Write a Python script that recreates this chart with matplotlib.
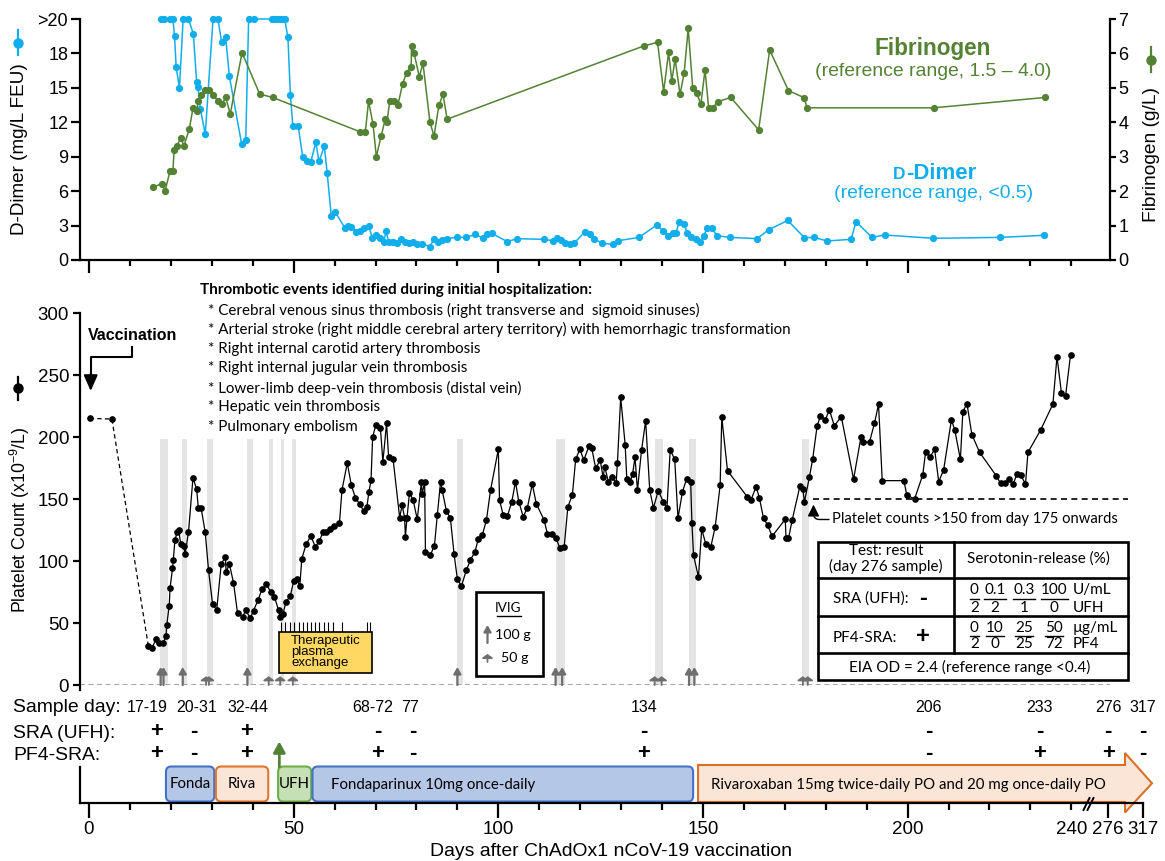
import numpy as np
import matplotlib
matplotlib.use("Agg")
import matplotlib.pyplot as plt
from matplotlib.patches import Rectangle, FancyBboxPatch, Polygon, FancyArrowPatch
from matplotlib.lines import Line2D

plt.rcParams['font.family'] = ['Liberation Sans', 'DejaVu Sans']
plt.rcParams['mathtext.fontset'] = 'custom'
plt.rcParams['mathtext.rm'] = 'Liberation Sans'
plt.rcParams['mathtext.it'] = 'Liberation Sans:italic'
plt.rcParams['mathtext.bf'] = 'Liberation Sans:bold'
SANS = ['Liberation Sans', 'DejaVu Sans']
HUM = ['Lato', 'DejaVu Sans']

# ------------------------------------------------------------------ data
# D-dimer (mg/L FEU); value 21 is plotted at the ">20" tick
dd_day = [17.6, 18.4, 19.8, 20.5, 20.9, 21.3, 22.1, 23.0, 24.3, 25.5,
          26.3, 26.6, 27.2, 28.4, 30.3, 31.5, 32.4, 33.4, 34.3, 37.3,
          38.3, 39.0, 40.2, 44.7, 45.3, 45.9, 46.6, 47.2, 47.8, 48.6,
          49.2, 49.8, 51.1, 52.2, 53.3, 54.2, 55.4, 56.2, 57.5, 58.2,
          59.2, 60.2, 62.6, 63.2, 64.1, 65.3, 66.3, 67.3, 68.3, 69.2,
          70.2, 71.2, 72.0, 72.6, 73.2, 74.3, 75.3, 76.3, 77.3, 78.3,
          79.1, 80.2, 81.4, 83.3, 84.3, 85.2, 86.3, 87.4, 89.8, 92.2,
          94.4, 96.2, 97.3, 98.4, 102.2, 104.5, 111.2, 113.4, 114.4, 115.3,
          116.3, 117.5, 118.5, 121.1, 122.3, 123.5, 125.3, 128.1, 129.3, 134.4,
          138.7, 140.3, 141.5, 142.6, 143.4, 144.2, 145.3, 146.2, 147.2, 148.3,
          149.3, 150.2, 151.1, 152.2, 153.4, 156.6, 163.2, 166.1, 170.7, 174.8,
          177.2, 180.3, 186.2, 187.4, 191.3, 194.4, 206.2, 222.5, 233.3]
dd_val = [21, 21, 21, 21, 19.5, 16.8, 15.0, 21, 21, 19.7,
          15.5, 15.1, 13.2, 10.95, 21, 21, 19.0, 19.4, 16.0, 10.1,
          10.5, 21, 21, 21, 21, 21, 21, 21, 21, 19.4,
          14.4, 11.7, 11.7, 9.0, 8.6, 8.55, 10.25, 8.6, 9.9, 7.55,
          3.83, 4.15, 2.76, 2.96, 2.9, 2.41, 2.5, 2.78, 3.0, 1.94,
          2.15, 1.9, 1.56, 2.5, 1.56, 1.56, 1.48, 1.86, 1.54, 1.5,
          1.54, 1.4, 1.42, 1.16, 1.86, 1.54, 1.74, 1.86, 1.97, 1.97,
          2.24, 1.92, 2.24, 2.32, 1.6, 1.86, 1.8, 1.68, 1.92, 1.71,
          1.45, 1.42, 1.45, 2.44, 2.29, 1.86, 1.45, 1.37, 1.68, 1.97,
          3.05, 2.53, 2.12, 2.38, 2.38, 3.28, 3.14, 2.38, 1.97, 1.86,
          1.6, 2.12, 2.79, 2.79, 2.12, 1.97, 1.86, 2.64, 3.45, 1.94,
          1.97, 1.66, 1.8, 3.34, 1.97, 2.18, 1.89, 1.97, 2.15]
dd_ticks = [0, 3, 6, 9, 12, 15, 18, 21]
dd_ticklabels = ['0', '3', '6', '9', '12', '15', '18', '>20']

# Fibrinogen (g/L)
fib_day = [15.6, 17.8, 18.6, 19.8, 20.5, 20.8, 21.5, 22.4, 23.2, 24.5,
           25.4, 26.3, 26.7, 27.4, 28.4, 29.3, 30.4, 31.4, 32.5, 33.4,
           34.5, 37.4, 41.7, 44.9, 66.1, 67.5, 68.3, 69.4, 70.2, 71.4,
           72.4, 72.8, 73.5, 74.5, 75.5, 76.6, 77.6, 78.7, 78.8, 79.4,
           80.7, 81.6, 83.3, 84.3, 85.5, 86.5, 87.5, 135.6, 138.9, 140.4,
           141.6, 142.4, 143.2, 144.4, 145.4, 146.4, 147.5, 148.5, 149.5, 150.5,
           151.4, 152.4, 153.6, 156.8, 163.6, 166.3, 170.9, 174.8, 175.4, 206.4,
           233.5]
fib_val = [2.11, 2.22, 2.01, 2.59, 2.59, 3.19, 3.32, 3.54, 3.32, 3.80,
           4.41, 4.33, 4.61, 4.80, 4.94, 4.94, 4.80, 4.63, 4.53, 4.72,
           4.24, 6.02, 4.82, 4.72, 3.73, 3.71, 4.61, 3.94, 3.0, 3.61,
           4.10, 4.01, 4.63, 4.63, 4.51, 5.11, 5.44, 5.61, 6.22, 6.02,
           5.32, 5.71, 4.0, 3.60, 4.50, 4.81, 4.09, 6.22, 6.32, 4.89,
           6.03, 5.21, 5.84, 4.81, 5.42, 6.73, 5.0, 4.84, 4.53, 5.52,
           4.41, 4.41, 4.60, 4.72, 3.78, 6.10, 4.92, 4.71, 4.42, 4.42,
           4.72]
fib_ticks = [0, 1, 2, 3, 4, 5, 6, 7]

# Platelet count (x10^9/L); the pre-admission values are joined by a dashed line
plt_pre_day = [0.2, 5.6]
plt_pre_val = [215, 214.5]
plt_day = [14.5, 15.3, 16.4, 17.2, 18.2, 18.8, 19.0, 19.6, 19.8, 20.4,
           20.6, 21.0, 21.5, 21.9, 22.4, 23.1, 23.5, 24.3, 25.4, 26.3,
           26.7, 27.4, 28.4, 29.2, 30.2, 31.2, 32.3, 33.3, 33.5, 34.3,
           35.3, 36.3, 37.6, 38.3, 39.4, 40.2, 41.3, 42.3, 43.3, 44.4,
           45.3, 46.3, 46.7, 47.4, 48.1, 49.2, 50.0, 50.8, 51.5, 52.0,
           53.1, 54.2, 55.3, 56.3, 57.1, 58.0, 59.0, 59.9, 61.2, 61.8,
           63.1, 64.1, 65.1, 66.1, 67.1, 67.9, 68.4, 68.9, 69.3, 70.1,
           71.2, 71.8, 72.7, 73.2, 74.3, 75.9, 76.5, 77.1, 77.3, 77.7,
           78.3, 79.2, 80.2, 81.2, 81.4, 82.0, 82.2, 83.4, 84.4, 85.1,
           85.9, 86.3, 87.3, 88.3, 89.2, 90.0, 91.0, 92.2, 93.2, 94.3,
           95.1, 96.1, 97.1, 98.1, 100.0, 100.3, 101.2, 102.2, 103.3, 104.2,
           105.0, 106.1, 107.1, 108.3, 109.3, 111.2, 112.0, 113.2, 114.2, 115.0,
           116.1, 117.0, 118.1, 118.9, 119.9, 120.9, 122.2, 122.8, 123.8, 124.9,
           125.6, 126.0, 126.9, 127.7, 128.8, 129.1, 129.9, 131.0, 131.4, 132.2,
           132.8, 133.4, 134.0, 135.0, 136.0, 137.0, 137.9, 139.1, 140.3, 141.2,
           142.0, 143.1, 143.9, 145.0, 146.0, 147.0, 147.3, 147.7, 148.9, 149.7,
           150.7, 151.9, 153.0, 154.2, 154.6, 156.0, 160.8, 161.7, 163.0, 163.8,
           164.8, 165.8, 166.9, 170.1, 170.3, 170.9, 171.8, 173.7, 174.4, 174.8,
           176.0, 176.8, 177.9, 178.7, 179.9, 180.9, 182.1, 183.8, 186.8, 188.6,
           189.2, 190.7, 191.9, 192.9, 193.8, 199.1, 199.8, 201.7, 203.7, 204.4,
           205.5, 206.6, 207.6, 208.8, 210.7, 211.5, 212.9, 213.5, 214.5, 215.7,
           217.6, 221.7, 222.7, 223.7, 224.7, 225.8, 226.7, 227.6, 228.8, 229.4,
           232.5, 235.5, 236.5, 237.6, 238.6, 239.8]
plt_val = [31.5, 29.6, 36.8, 33.6, 34.1, 39.5, 48.4, 64, 78, 94,
           101, 117, 123, 125, 114, 112, 106, 123, 167, 158,
           143, 142.5, 123, 92.7, 65, 60.5, 97.3, 103.5, 90.9, 97.6,
           82.5, 57.8, 55.1, 60.5, 53.8, 59.9, 68.5, 77.4, 81.2, 75.2,
           71.2, 60.5, 54.6, 57.3, 66.7, 72, 83.9, 85.5, 79.8, 102,
           114, 120, 111.5, 116, 123, 123, 126, 128, 131, 157,
           179, 161, 151, 146, 140.6, 143.8, 156, 165, 200, 210,
           207, 180, 211, 184, 182, 135, 145, 135, 119.6, 135,
           155, 149, 133.6, 163.5, 153.8, 164, 107.5, 104.8, 112.4, 137,
           164, 157, 140.6, 134.4, 105.4, 85.5, 79.8, 92.7, 100.8, 107.5,
           117.5, 121, 133, 157, 190, 149, 137, 136, 147.8, 164,
           147.8, 135.7, 143, 162, 146, 133, 121.8, 121.5, 118.3, 110.2,
           111.5, 143.8, 153.2, 182, 190, 181.5, 193, 191.4, 174.8, 181.5,
           167.5, 176, 164, 168, 163, 178.8, 232, 193.5, 166, 163.5,
           170, 183.6, 157, 189.5, 213, 157, 143, 156.7, 147.8, 142.5,
           189.5, 182, 134.4, 156, 166, 163.5, 131, 104.8, 86.9, 125.8,
           113.5, 111, 127.7, 161, 215.9, 172.8, 151.9, 149, 160, 150.6,
           134.4, 129, 120, 133.6, 118.8, 118.3, 133, 160.5, 157.8, 147.8,
           167.5, 182, 209, 217, 214, 221.8, 209, 216.4, 166, 199.8,
           196, 196, 211, 226.4, 164.8, 164.8, 153.2, 150, 169.4, 188,
           184, 190, 164, 173.4, 213.7, 206, 182, 220.4, 227, 202,
           187.6, 168.5, 162.6, 162.6, 166, 162, 170, 169.6, 162, 187.6,
           205.6, 226.6, 264.8, 235.2, 233.3, 266]
plt_ticks = [0, 50, 100, 150, 200, 250, 300]
threshold_val = 150
threshold_from_day = 177

# IVIG doses (g) and infusion periods (grey bands)
ivig_day = [17.5, 18.2, 22.9, 28.6, 29.3, 38.7, 43.9, 46.7, 49.8, 90.0,
            114.0, 115.6, 138.2, 139.9, 146.6, 147.9, 174.4, 175.6]
ivig_dose = [100, 100, 100, 50, 50, 100, 50, 50, 50, 100,
             100, 100, 50, 50, 100, 100, 50, 50]
ivig_band_start = [17.4, 22.7, 28.8, 38.6, 44.0, 46.8, 49.7, 89.8, 114.0, 138.4, 146.7, 174.3]
ivig_band_end = [19.2, 23.9, 30.3, 40.0, 45.0, 47.6, 50.6, 91.3, 116.4, 140.2, 148.4, 175.8]

# Therapeutic plasma exchange sessions
tpe_day = [47.0, 47.8, 49.0, 50.1, 51.2, 52.3, 53.3, 54.2, 55.3, 56.3,
           57.5, 58.5, 59.5, 61.8, 67.9, 68.7]

# Sample days and assay results
sample_label = ['17-19', '20-31', '32-44', '68-72', '77', '134', '206', '233', '276', '317']
sample_day = [14.2, 26.3, 38.8, 69.4, 78.4, 135.6, 205.1, 232.3, 276, 317]
sign_day = [16.6, 25.5, 38.5, 70.5, 79.0, 135.6, 205.1, 232.3, 276, 317]
sra_ufh = ['+', '-', '+', '-', '-', '-', '-', '-', '-', '-']
pf4_sra = ['+', '-', '+', '+', '-', '+', '-', '+', '+', '-']

# Anticoagulation
treat_name = ['Fonda', 'Riva', 'UFH', 'Fondaparinux 10mg once-daily',
              'Rivaroxaban 15mg twice-daily PO and 20 mg once-daily PO']
treat_start = [18.8, 31.0, 46.2, 54.6, 148.8]
treat_end = [30.6, 43.8, 54.3, 147.6, None]
ufh_bolus_day = 46.5

# Table (day 276 sample)
tbl_head = ['Test: result\n(day 276 sample)', 'Serotonin-release (%)']
ufh_conc = ['0', '0.1', '0.3', '100']
ufh_release = ['2', '2', '1', '0']
pf4_conc = ['0', '10', '25', '50']
pf4_release = ['2', '0', '25', '72']
sra_result, pf4_result = '-', '+'
eia_text = 'EIA OD = 2.4 (reference range <0.4)'

thrombo_head = 'Thrombotic events identified during initial hospitalization:'
thrombo_events = ['Cerebral venous sinus thrombosis (right transverse and  sigmoid sinuses)',
                  'Arterial stroke (right middle cerebral artery territory) with hemorrhagic transformation',
                  'Right internal carotid artery thrombosis',
                  'Right internal jugular vein thrombosis',
                  'Lower-limb deep-vein thrombosis (distal vein)',
                  'Hepatic vein thrombosis',
                  'Pulmonary embolism']

# ------------------------------------------------------------------ style
BLUE = '#12AEEC'
GREEN = '#548235'
GREY_BAND = '#E4E4E4'
ARROW_GREY = '#6E6E6E'

W, H = 1165, 861
fig = plt.figure(figsize=(W / 100, H / 100), dpi=100)
R = fig.canvas.get_renderer()

# broken day axis: linear to 240, then compressed 276 / 317
BRK_DAY = [-1000.0, 240.0, 276.0, 317.0, 5000.0]
BRK_POS = [-1000.0, 240.0, 249.0, 257.5, 257.5 + (5000 - 317) * 0.21]


def fwd(d):
    return np.interp(np.asarray(d, float), BRK_DAY, BRK_POS)


def inv(p):
    return np.interp(np.asarray(p, float), BRK_POS, BRK_DAY)


X0, PXD = 89.0, 4.093


def px2day(px):
    return float(inv((px - X0) / PXD))


def xl(lpx, rpx):
    return (px2day(lpx), px2day(rpx))


def rect(l, r, t, b):
    return [l / W, 1 - b / H, (r - l) / W, (b - t) / H]


def ftext(x, y, s, **kw):
    kw.setdefault('zorder', 8)
    return fig.text(x / W, 1 - y / H, s, **kw)


def fline(xs, ys, **kw):
    kw.setdefault('zorder', 7)
    ln = Line2D([x / W for x in xs], [1 - y / H for y in ys], transform=fig.transFigure, **kw)
    fig.add_artist(ln)
    return ln


def farrow(x, y0, y1, style, color, lw, zorder=9):
    a = FancyArrowPatch((x / W, 1 - y0 / H), (x / W, 1 - y1 / H), transform=fig.transFigure,
                        arrowstyle=style, mutation_scale=10, color=color, lw=lw,
                        shrinkA=0, shrinkB=0, zorder=zorder)
    fig.add_artist(a)
    return a


def fit(t, size, axis='w'):
    bb = t.get_window_extent(renderer=R)
    cur = bb.width if axis == 'w' else bb.height
    t.set_fontsize(t.get_fontsize() * size / cur)
    return t


major_days = [0, 50, 100, 150, 200]
minor_days = [d for d in range(10, 241, 10) if d % 50 != 0]
TALL = '-|>,head_width=0.22,head_length=0.38'
SHORT = '-|>,head_width=0.32,head_length=0.22'

# ------------------------------------------------------------------ top panel
ax1 = fig.add_axes(rect(80, 1110, 19, 260))
ax1.set_xscale('function', functions=(fwd, inv))
ax1.set_xlim(*xl(80, 1110))
ax1.set_ylim(0, 21)
ax1.set_facecolor('none')
for s in ['top', 'right']:
    ax1.spines[s].set_visible(False)
for s in ['left', 'bottom']:
    ax1.spines[s].set_linewidth(1.6)
ax1.set_xticks(major_days)
ax1.set_xticks(minor_days, minor=True)
ax1.tick_params(axis='x', which='major', length=9.5, width=1.6, labelbottom=False)
ax1.tick_params(axis='x', which='minor', length=4, width=1.6, labelbottom=False)
ax1.set_yticks(dd_ticks)
ax1.set_yticklabels(dd_ticklabels)
ax1.tick_params(axis='y', length=6.5, width=1.6, labelsize=13, pad=2)

ax2 = ax1.twinx()
ax2.set_ylim(0, 7)
for s in ['top', 'left', 'bottom']:
    ax2.spines[s].set_visible(False)
ax2.spines['right'].set_linewidth(1.6)
ax2.set_yticks(fib_ticks)
ax2.tick_params(axis='y', length=4, width=1.6, labelsize=13, pad=2)

ax1.plot(dd_day, dd_val, color=BLUE, lw=1.1, marker='o', ms=4.2, mec=BLUE, clip_on=False, zorder=3)
ax2.plot(fib_day, fib_val, color=GREEN, lw=1.1, marker='o', ms=4.2, mec=GREEN, clip_on=False, zorder=3)

# legend-like labels
t = ftext(933, 48, 'Fibrinogen', color=GREEN, fontweight='bold', fontsize=16, ha='center', va='center')
fit(t, 116)
t = ftext(933, 72, '(reference range, 1.5 \u2013 4.0)', color=GREEN, fontsize=14, ha='center', va='center')
fit(t, 238)
tD = ftext(893, 179, 'D', color=BLUE, fontweight='bold', fontsize=12.5, ha='left', va='baseline')
wD = tD.get_window_extent(renderer=R).width
ftext(893 + wD + 0.5, 179, '-Dimer', color=BLUE, fontweight='bold', fontsize=16, ha='left', va='baseline')
t = ftext(934, 194, '(reference range, <0.5)', color=BLUE, fontsize=14, ha='center', va='center')
fit(t, 200)

# y-axis labels with series symbols
t = ftext(20, 149, 'D-Dimer (mg/L FEU)', rotation=90, fontsize=13.5, ha='center', va='center')
fit(t, 172, 'h')
fline([18.3, 18.3], [30, 55], color=BLUE, lw=1.6)
fline([18.3], [42.7], color=BLUE, marker='o', ms=6.5, lw=0)
t = ftext(1151, 155, 'Fibrinogen (g/L)', rotation=90, fontsize=13.5, ha='center', va='center')
fit(t, 135, 'h')
fline([1151, 1151], [47, 72], color=GREEN, lw=1.6)
fline([1151], [59.7], color=GREEN, marker='o', ms=6.5, lw=0)

# ------------------------------------------------------------------ platelet panel
ax3 = fig.add_axes(rect(80, 1110, 313, 685))
ax3.set_xscale('function', functions=(fwd, inv))
ax3.set_xlim(*xl(80, 1110))
ax3.set_ylim(0, 300)
ax3.set_facecolor('none')
for s in ['top', 'right', 'bottom']:
    ax3.spines[s].set_visible(False)
ax3.spines['left'].set_linewidth(1.6)
ax3.spines['left'].set_bounds(-4, 300)
ax3.set_xticks([])
ax3.set_xticks([], minor=True)
ax3.set_yticks(plt_ticks)
ax3.tick_params(axis='y', length=5.3, width=1.6, labelsize=13.5, pad=2.5)

bs = np.array(ivig_band_start)
be = np.array(ivig_band_end)
ax3.bar((bs + be) / 2, 198, width=be - bs, color=GREY_BAND, lw=0, zorder=0)
ax3.axhline(0, color='#8A8A8A', lw=1.1, ls=(0, (3.2, 2.4)), zorder=1)

for d, g in zip(ivig_day, ivig_dose):
    tall = g >= 100
    ax3.annotate('', xy=(d, 14.5 if tall else 7), xytext=(d, 0),
                 arrowprops=dict(arrowstyle=TALL if tall else SHORT,
                                 color=ARROW_GREY, lw=1.6 if tall else 1.3, shrinkA=0, shrinkB=0),
                 annotation_clip=False)

ax3.plot(plt_pre_day + [plt_day[0]], plt_pre_val + [plt_val[0]], color='black', lw=0.9,
         ls=(0, (3.5, 2.5)), zorder=3)
ax3.plot(plt_pre_day, plt_pre_val, lw=0, marker='o', ms=3.8, color='black', zorder=4)
ax3.plot(plt_day, plt_val, color='black', lw=0.9, marker='o', ms=3.8, zorder=4, clip_on=False)

# therapeutic plasma exchange
ax3.vlines(tpe_day, 43, 51, color='black', lw=0.8, zorder=3)
x_tpe0 = tpe_day[0] - 0.5
x_tpe1 = tpe_day[-1] + 0.4
ax3.add_patch(Rectangle((x_tpe0, 10), x_tpe1 - x_tpe0, 33, fc='#FFD863', ec='black', lw=1.2, zorder=4))
t = ax3.text(x_tpe0 + 2.9, 40, 'Therapeutic\nplasma\nexchange', ha='left', va='top',
             fontsize=10, linespacing=0.86, zorder=5)
fit(t, 70)

# platelet threshold
ax3.hlines(threshold_val, threshold_from_day, px2day(1128), colors='black', lw=1.2,
           linestyles=(0, (3.6, 2.6)), zorder=3, clip_on=False)
tp = ftext(832, 519, 'Platelet counts >150 from day 175 onwards', ha='left', va='center',
           fontsize=10.5, family=HUM)
fit(tp, 288)
ax3.annotate('', xy=(px2day(813.5), 145.5), xycoords='data', xytext=(829, H - 519.5),
             textcoords='figure pixels', annotation_clip=False,
             arrowprops=dict(arrowstyle='-|>,head_width=0.35,head_length=0.7',
                             connectionstyle='angle,angleA=0,angleB=90,rad=6',
                             color='black', lw=1.0, shrinkA=0, shrinkB=0), zorder=6)

# platelet ylabel + symbol
t = ftext(20, 520, r'Platelet Count (x10$^{-9}$/L)', rotation=90, fontsize=13.5, ha='center', va='center')
fit(t, 186, 'h')
fline([18.3, 18.3], [377, 400], color='black', lw=1.6)
fline([18.3], [388], color='black', marker='o', ms=6.5, lw=0)

# vaccination marker
ftext(88, 335, 'Vaccination', fontweight='bold', fontsize=11.5, ha='left', va='center')
fline([131.7, 131.7, 90.7, 90.7], [347, 357, 357, 378], color='black', lw=1.5)
farrow(90.7, 374, 391, '-|>,head_width=0.42,head_length=0.95', 'black', 1.5)

# thrombotic events text
t = ftext(200, 290, thrombo_head, fontweight='bold', family=HUM, fontsize=10.5, ha='left', va='center')
fit(t, 395)
ev_texts = []
for i, ev in enumerate(thrombo_events):
    ev_texts.append(ftext(208, 310 + 19.5 * i, '* ' + ev, family=HUM, fontsize=10.5, ha='left', va='center'))
fit(ev_texts[1], 585)
for tt in ev_texts:
    tt.set_fontsize(ev_texts[1].get_fontsize())

# IVIG legend
fig.add_artist(Rectangle((475.7 / W, 1 - 676 / H), 67 / W, 84.3 / H, transform=fig.transFigure,
                         fc='white', ec='black', lw=1.9, zorder=6))
t = ftext(508.3, 607.5, 'IVIG', family=HUM, fontsize=11, ha='center', va='center')
fit(t, 26.7)
fline([496.5, 520.5], [615.5, 615.5], color='black', lw=1.0, zorder=8)
t100 = ftext(495, 635, '100 g', family=HUM, fontsize=11, ha='left', va='center')
fit(t100, 36)
ftext(501, 657.5, '50 g', family=HUM, fontsize=t100.get_fontsize(), ha='left', va='center')
farrow(487.5, 643, 625, TALL, ARROW_GREY, 1.6)
farrow(487.5, 662, 654, SHORT, ARROW_GREY, 1.3)

# results table
Tx0, Tx1, Tcol = 818.3, 1128.3, 954.0
Ty = [541.7, 577.7, 616.0, 653.3, 680.0]
fig.add_artist(Rectangle((Tx0 / W, 1 - Ty[-1] / H), (Tx1 - Tx0) / W, (Ty[-1] - Ty[0]) / H,
                         transform=fig.transFigure, fc='white', ec='black', lw=1.9, zorder=6))
for y in Ty[1:4]:
    fline([Tx0, Tx1], [y, y], color='black', lw=1.9)
fline([Tcol, Tcol], [Ty[0], Ty[3]], color='black', lw=1.9)
th = ftext(1038.5, 559, tbl_head[1], family=HUM, fontsize=11, ha='center', va='center')
fit(th, 143)
TFS = th.get_fontsize()
ftext(886, 559, tbl_head[0], family=HUM, fontsize=TFS, ha='center', va='center',
      multialignment='center', linespacing=1.0)
ftext(833, 599, 'SRA (UFH):', family=HUM, fontsize=TFS, ha='left', va='center')
ftext(833, 637.5, 'PF4-SRA:', family=HUM, fontsize=TFS, ha='left', va='center')
ftext(923, 598, sra_result, fontweight='bold', fontsize=17, ha='center', va='center')
ftext(923, 636.5, pf4_result, fontweight='bold', fontsize=17, ha='center', va='center')
frac_x = [974.3, 995.0, 1024.0, 1054.3]
for rows, units, (yn, yd) in [((ufh_conc, ufh_release), ('U/mL', 'UFH'), (590, 608)),
                              ((pf4_conc, pf4_release), ('\u00b5g/mL', 'PF4'), (627.7, 644.5))]:
    for xc, num, den in zip(frac_x, rows[0], rows[1]):
        tn = ftext(xc, yn, num, family=HUM, fontsize=TFS, ha='center', va='center')
        wn = tn.get_window_extent(renderer=R).width
        fline([xc - wn / 2, xc + wn / 2], [yn + 8.5, yn + 8.5], color='black', lw=1.0, zorder=8)
        ftext(xc, yd, den, family=HUM, fontsize=TFS, ha='center', va='center')
    ftext(1073, yn, units[0], family=HUM, fontsize=TFS, ha='left', va='center')
    ftext(1073, yd, units[1], family=HUM, fontsize=TFS, ha='left', va='center')
ftext(970, 667, eia_text, family=HUM, fontsize=TFS, ha='center', va='center')

# ------------------------------------------------------------------ timeline panel
ax4 = fig.add_axes(rect(80, 1152, 690, 803))
ax4.set_xscale('function', functions=(fwd, inv))
xl4 = xl(80, 1152)
ax4.set_xlim(*xl4)
ax4.set_ylim(803, 690)
ax4.set_facecolor('none')
ax4.spines['top'].set_visible(False)
ax4.spines['right'].set_visible(False)
ax4.spines['left'].set_bounds(767, 803)
ax4.spines['bottom'].set_bounds(xl4[0], 317)
for s in ['left', 'bottom']:
    ax4.spines[s].set_linewidth(1.6)
ax4.set_yticks([])
tl_major = [0, 50, 100, 150, 200, 276, 317]
tl_minor = minor_days
ax4.set_xticks(tl_major, labels=[str(v) for v in tl_major])
ax4.set_xticks(tl_minor, labels=[str(v) if v == 240 else '' for v in tl_minor], minor=True)
ax4.tick_params(axis='x', which='major', length=10.8, width=1.6, labelsize=13.5, pad=2)
ax4.tick_params(axis='x', which='minor', length=4.8, width=1.6, labelsize=13.5, pad=8)

fills = ['#B4C7E7', '#FBE5D6', '#C5E0B4', '#B4C7E7', '#FBE5D6']
edges = ['#4472C4', '#E0762C', '#70AD47', '#4472C4', '#D9702A']
for i in range(4):
    s, e = treat_start[i], treat_end[i]
    ax4.add_patch(FancyBboxPatch((s, 766.5), e - s, 35, boxstyle='round,pad=0,rounding_size=1.3',
                                 mutation_aspect=PXD, fc=fills[i], ec=edges[i], lw=1.5, zorder=2,
                                 clip_on=False))
xb, xt = px2day(1125), px2day(1152)
arrow_verts = [(treat_start[4], 765), (xb, 765), (xb, 753), (xt, 783.3), (xb, 812.5),
               (xb, 802), (treat_start[4], 802)]
ax4.add_patch(Polygon(arrow_verts, closed=True, fc=fills[4], ec=edges[4], lw=1.5, zorder=2,
                      clip_on=False))
box_txt = []
for i, nm in enumerate(treat_name):
    if i < 3:
        tt = ax4.text((treat_start[i] + treat_end[i]) / 2, 784.5, nm, family=HUM, fontsize=11,
                      ha='center', va='center', zorder=5)
    else:
        off = 4.6 if i == 3 else 3.2
        tt = ax4.text(treat_start[i] + off, 784.5, nm, family=HUM, fontsize=11,
                      ha='left', va='center', zorder=5)
    box_txt.append(tt)
fit(box_txt[3], 204)
for tt in box_txt:
    tt.set_fontsize(box_txt[3].get_fontsize())

ax4.annotate('', xy=(ufh_bolus_day, 741.5), xytext=(ufh_bolus_day, 767),
             arrowprops=dict(arrowstyle='-|>,head_width=0.36,head_length=0.65', color=GREEN,
                             lw=2.0, shrinkA=0, shrinkB=0), annotation_clip=False)

# axis break mark
fline([1083.5, 1089.5], [810, 798], color='black', lw=1.4)
fline([1087.5, 1093.5], [810, 798], color='black', lw=1.4)

# sample rows
t_sd = ftext(13, 708, 'Sample day:', fontsize=13.5, ha='left', va='center')
fit(t_sd, 108)
ftext(13, 733, 'SRA (UFH):', fontsize=t_sd.get_fontsize(), ha='left', va='center')
ftext(13, 756, 'PF4-SRA:', fontsize=t_sd.get_fontsize(), ha='left', va='center')
for lab, d in zip(sample_label, sample_day):
    ax4.text(d, 708, lab, fontsize=11.5, ha='center', va='center', clip_on=False)
for d, a, b in zip(sign_day, sra_ufh, pf4_sra):
    ax4.text(d, 731.5, a, fontsize=16, fontweight='bold', ha='center', va='center', clip_on=False)
    ax4.text(d, 753.5, b, fontsize=16, fontweight='bold', ha='center', va='center', clip_on=False)

t = ftext(611, 852, 'Days after ChAdOx1 nCoV-19 vaccination', fontsize=13.5, ha='center', va='center')
fit(t, 362)

fig.savefig('out.png', dpi=100)
